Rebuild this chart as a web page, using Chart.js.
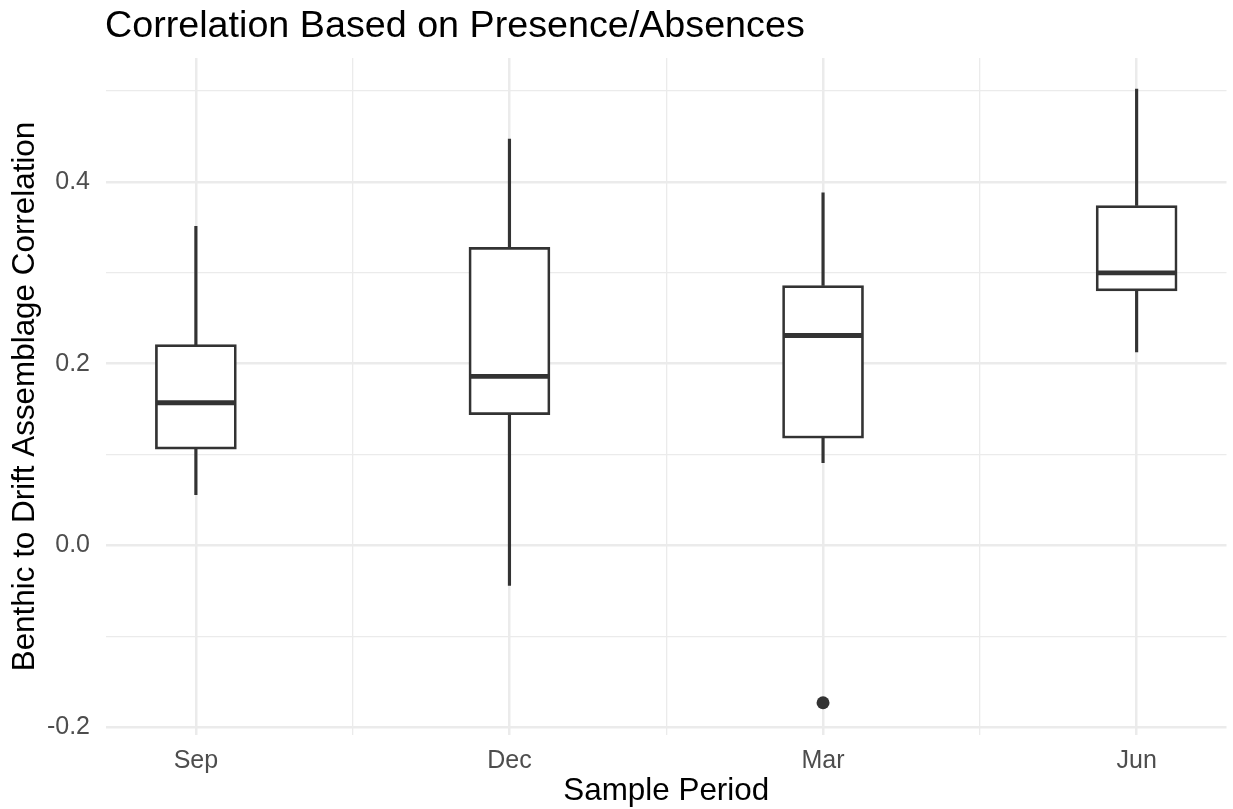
<!DOCTYPE html>
<html>
<head>
<meta charset="utf-8">
<script src="https://cdn.jsdelivr.net/npm/chart.js@4.4.0/dist/chart.umd.min.js"></script>
<style>
    html, body { margin: 0; padding: 0; background: #ffffff; }
    #wrap { width: 1233px; height: 809px; }
</style>
</head>
<body>
<div id="wrap"><canvas id="boxChart"></canvas></div>
<script>
// Boxplot stats per sample period
const periods = ['Sep', 'Dec', 'Mar', 'Jun'];
const lowerWhisker = [0.056, -0.044, 0.091, 0.213];
const q1 = [0.106, 0.144, 0.118, 0.280];
const medians = [0.157, 0.186, 0.231, 0.300];
const q3 = [0.221, 0.328, 0.286, 0.374];
const upperWhisker = [0.351, 0.447, 0.388, 0.502];
const outlierPeriods = ['Mar'];
const outlierValues = [-0.173];

// Axis ticks (minor ones get a grid line but no label)
const yTicks = [-0.2, -0.1, 0.0, 0.1, 0.2, 0.3, 0.4, 0.5];
const yLabels = [-0.2, 0.0, 0.2, 0.4];

const INK = '#333333';
const GRID = '#EBEBEB';
const FONT = '"Liberation Sans", Arial, Helvetica, sans-serif';

Chart.defaults.font.family = FONT;

const xPos = name => periods.indexOf(name) + 1;
const isLabelled = v => yLabels.some(l => Math.abs(l - v) < 1e-9);
const xTicks = periods.flatMap((p, i) => i === 0 ? [1] : [i + 0.5, i + 1]);

// Median bars, drawn over the boxes
const medianLines = {
    id: 'medianLines',
    afterDatasetsDraw(chart) {
        const { ctx, scales: { x, y } } = chart;
        const half = 40;
        ctx.save();
        ctx.strokeStyle = INK;
        ctx.lineWidth = 4.8;
        medians.forEach((m, i) => {
            const px = x.getPixelForValue(i + 1);
            const py = y.getPixelForValue(m);
            ctx.beginPath();
            ctx.moveTo(px - half, py);
            ctx.lineTo(px + half, py);
            ctx.stroke();
        });
        ctx.restore();
    }
};

// ggplot style title, aligned to the panel's left edge
const plotTitle = {
    id: 'plotTitle',
    afterDraw(chart) {
        const { ctx, chartArea } = chart;
        ctx.save();
        ctx.font = '37.7px ' + FONT;
        ctx.fillStyle = '#000000';
        ctx.textBaseline = 'alphabetic';
        ctx.textAlign = 'left';
        ctx.fillText('Correlation Based on Presence/Absences', chartArea.left - 1, 37);
        ctx.restore();
    }
};

const ctx = document.getElementById('boxChart').getContext('2d');
new Chart(ctx, {
    type: 'bar',
    data: {
        datasets: [
            {
                label: 'box',
                data: periods.map((p, i) => ({ x: i + 1, y: [q1[i], q3[i]] })),
                backgroundColor: '#ffffff',
                borderColor: INK,
                borderWidth: 2.7,
                borderSkipped: false,
                barThickness: 81,
                grouped: false
            },
            {
                label: 'whiskers',
                data: periods.flatMap((p, i) => [
                    { x: i + 1, y: [lowerWhisker[i], q1[i]] },
                    { x: i + 1, y: [q3[i], upperWhisker[i]] }
                ]),
                backgroundColor: INK,
                borderWidth: 0,
                barThickness: 2.5,
                grouped: false
            },
            {
                type: 'scatter',
                label: 'outliers',
                data: outlierPeriods.map((p, i) => ({ x: xPos(p), y: outlierValues[i] })),
                backgroundColor: INK,
                borderWidth: 0,
                pointRadius: 6.5,
                showLine: false
            }
        ]
    },
    options: {
        responsive: true,
        maintainAspectRatio: false,
        animation: false,
        layout: { padding: { top: 58, right: 5, left: 0, bottom: 0 } },
        plugins: {
            legend: { display: false },
            tooltip: { enabled: false },
            title: { display: false }
        },
        scales: {
            x: {
                type: 'linear',
                min: 0.7134,
                max: 4.2866,
                offset: false,
                afterBuildTicks: axis => { axis.ticks = xTicks.map(v => ({ value: v })); },
                afterFit: axis => { axis.height = 74; },
                border: { display: false },
                grid: {
                    offset: false,
                    drawTicks: false,
                    color: GRID,
                    lineWidth: c => Number.isInteger(c.tick.value) ? 2.5 : 1.3
                },
                ticks: {
                    autoSkip: false,
                    maxRotation: 0,
                    padding: 11,
                    color: '#4D4D4D',
                    font: { size: 25 },
                    callback: v => Number.isInteger(v) ? periods[v - 1] : ''
                },
                title: {
                    display: true,
                    text: 'Sample Period',
                    color: '#000000',
                    font: { size: 31.4, lineHeight: 1.1 },
                    padding: { top: 0, bottom: 0 }
                }
            },
            y: {
                type: 'linear',
                min: -0.2085,
                max: 0.5363,
                afterBuildTicks: axis => { axis.ticks = yTicks.map(v => ({ value: v })); },
                afterFit: axis => { axis.width = 106; },
                border: { display: false },
                grid: {
                    drawTicks: false,
                    color: GRID,
                    lineWidth: c => isLabelled(c.tick.value) ? 2.5 : 1.3
                },
                ticks: {
                    padding: 16,
                    color: '#4D4D4D',
                    font: { size: 25 },
                    callback: v => isLabelled(v) ? v.toFixed(1) : ''
                },
                title: {
                    display: true,
                    text: 'Benthic to Drift Assemblage Correlation',
                    color: '#000000',
                    font: { size: 31.4, lineHeight: 1.2 },
                    padding: { top: 7, bottom: 0 }
                }
            }
        }
    },
    plugins: [medianLines, plotTitle]
});
</script>
</body>
</html>
